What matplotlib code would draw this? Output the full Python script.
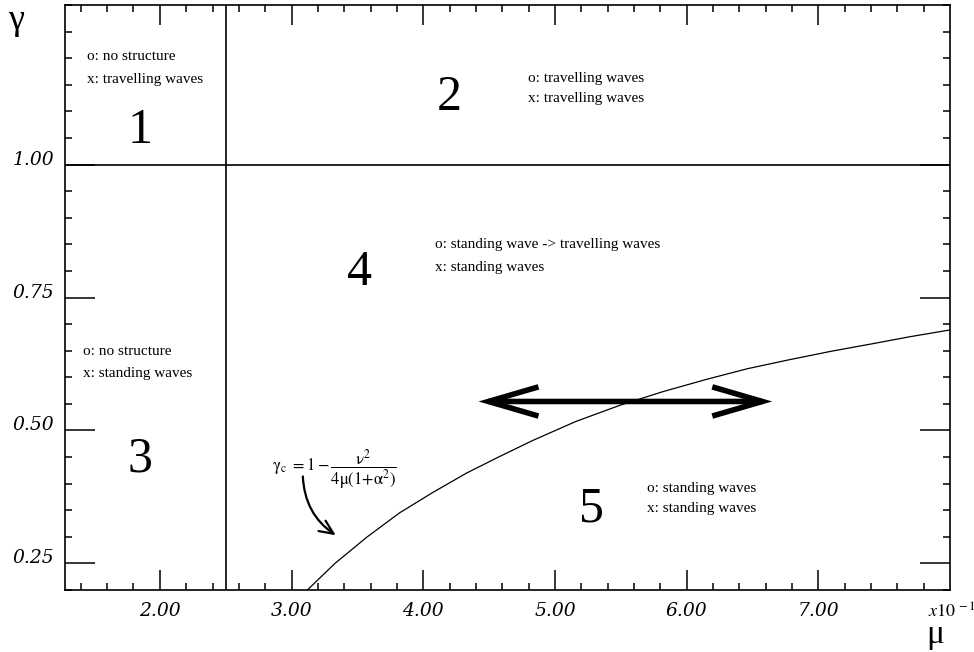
import matplotlib
matplotlib.use('Agg')
import matplotlib.pyplot as plt
from matplotlib.patches import ArrowStyle

plt.rcParams['font.family'] = ['Liberation Serif', 'DejaVu Serif']
plt.rcParams['mathtext.fontset'] = 'stix'

# critical curve gamma_c(mu) (mu in units of 1e-1)
mu_curve = [3.12, 3.33, 3.57, 3.82, 4.07, 4.33, 4.58, 4.83, 5.16, 5.49, 5.82, 6.15,
            6.46, 6.78, 7.10, 7.41, 7.69, 8.00]
gamma_curve = [0.200, 0.250, 0.299, 0.345, 0.383, 0.420, 0.451, 0.481, 0.517, 0.547, 0.573, 0.596,
               0.616, 0.633, 0.649, 0.663, 0.676, 0.689]

# region boundaries
mu_split = 2.5
gamma_split = 1.0

x_ticks = [2.0, 3.0, 4.0, 5.0, 6.0, 7.0]
x_labels = ['2.00', '3.00', '4.00', '5.00', '6.00', '7.00']
y_ticks = [0.25, 0.50, 0.75, 1.00]
y_labels = ['0.25', '0.50', '0.75', '1.00']

# region numbers and what was seen there (mu, gamma)
region_nums = ['1', '2', '3', '4', '5']
region_pos = [(1.849, 1.041), (4.201, 1.103), (1.849, 0.423), (3.518, 0.774), (5.278, 0.329)]
region_notes = [
    ('o: no structure', 'x: travelling waves'),
    ('o: travelling waves', 'x: travelling waves'),
    ('o: no structure', 'x: standing waves'),
    ('o: standing wave -> travelling waves', 'x: standing waves'),
    ('o: standing waves', 'x: standing waves'),
]
note_pos = [(1.447, 1.197, 1.154), (4.793, 1.156, 1.117), (1.417, 0.641, 0.600),
            (4.087, 0.844, 0.799), (5.703, 0.385, 0.346)]

fig = plt.figure(figsize=(9.74, 6.52), dpi=100)
ax = fig.add_axes([65 / 974, 1 - 590 / 652, 885 / 974, 585 / 652])

ax.plot(mu_curve, gamma_curve, color='black', lw=0.9)
ax.axvline(mu_split, color='black', lw=1.2)
ax.axhline(gamma_split, color='black', lw=1.2)

ax.set_xlim(1.28, 8.0)
ax.set_ylim(0.2, 1.3)

tick_font = {'family': 'DejaVu Serif', 'style': 'italic', 'size': 13.5}
ax.set_xticks(x_ticks)
ax.set_xticklabels(x_labels, fontdict=tick_font)
ax.set_xticks([1.4 + 0.2 * i for i in range(33)], minor=True)
ax.set_yticks(y_ticks)
ax.set_yticklabels(y_labels, fontdict=tick_font)
ax.set_yticks([0.2 + 0.05 * i for i in range(23)], minor=True)

ax.tick_params(which='both', direction='in', top=True, right=True, width=1.1, color='black')
ax.tick_params(axis='x', which='major', length=14.5, pad=9)
ax.tick_params(axis='y', which='major', length=21.5, pad=8)
ax.tick_params(which='minor', length=5)
for t in ax.yaxis.get_major_ticks():
    t.label1.set_verticalalignment('baseline')
for s in ax.spines.values():
    s.set_linewidth(1.2)

for num, (x, y) in zip(region_nums, region_pos):
    ax.text(x, y, num, fontsize=36, ha='center', va='baseline')
for (l1, l2), (x, y1, y2) in zip(region_notes, note_pos):
    ax.text(x, y1, l1, fontsize=11, va='baseline')
    ax.text(x, y2, l2, fontsize=11, va='baseline')

# formula and its curved pointer
ax.text(2.85, 0.425,
        r'$\mathrm{\gamma_c}\ = 1 - \dfrac{\mathrm{\nu}^2}{4\mathrm{\mu}(1{+}\mathrm{\alpha}^2)}$',
        fontsize=12, va='center')
ax.annotate('', xy=(3.336, 0.303), xytext=(3.086, 0.4135),
            arrowprops=dict(arrowstyle=ArrowStyle('->', head_length=1.0, head_width=0.45),
                            connectionstyle='arc3,rad=0.25', color='black', lw=1.6,
                            shrinkA=0, shrinkB=0))

# thick double arrow
ax.annotate('', xy=(6.65, 0.5545), xytext=(4.42, 0.5545),
            arrowprops=dict(arrowstyle=ArrowStyle('<->', head_length=3.6, head_width=1.05),
                            color='black', lw=4.0, mutation_scale=10, shrinkA=0, shrinkB=0,
                            joinstyle='miter', capstyle='butt'))

fig.text(16 / 974, 1 - 29 / 652, 'γ', fontsize=26, ha='center', va='baseline')
fig.text(935 / 974, 1 - 643 / 652, 'μ', fontsize=24, ha='center', va='baseline')
fig.text(928 / 974, 1 - 618 / 652, r'$\mathit{x10}^{\,-1}$', fontsize=13, va='baseline')

fig.savefig('out.png', dpi=100)
